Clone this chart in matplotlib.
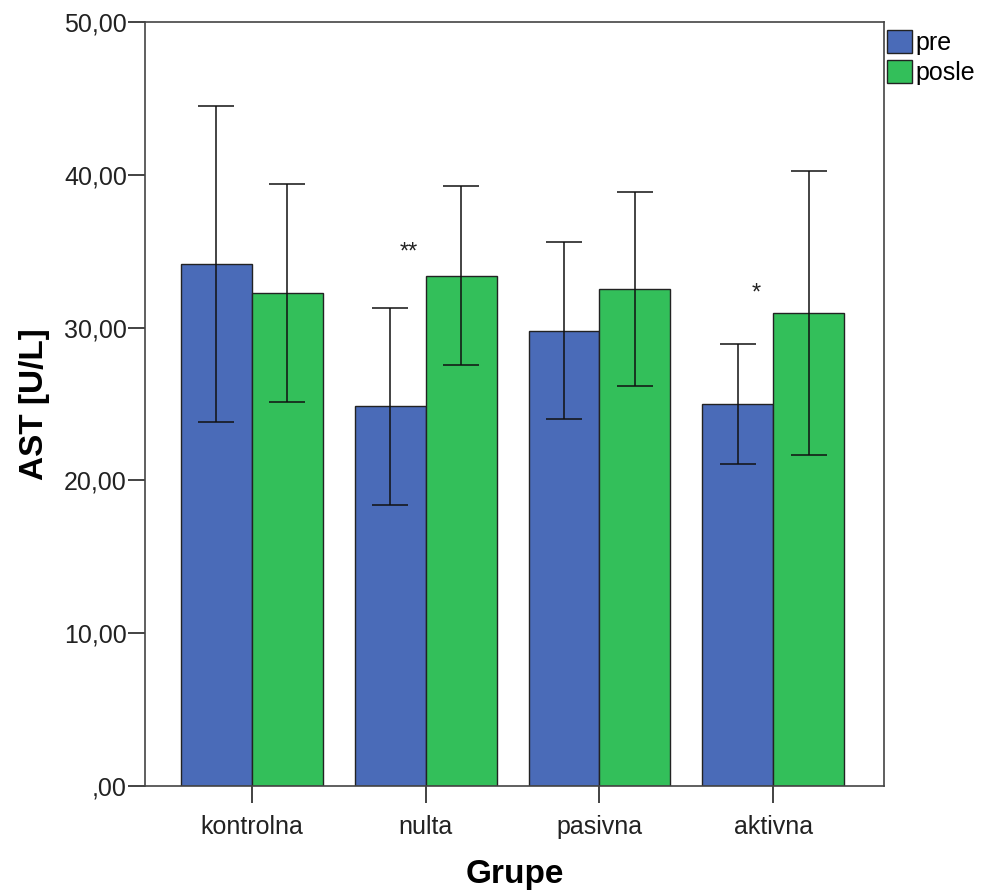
import numpy as np
import matplotlib.pyplot as plt

groups = ["kontrolna", "nulta", "pasivna", "aktivna"]
pre_mean = [34.15, 24.85, 29.8, 25.0]
pre_err = [10.35, 6.45, 5.8, 3.9]
posle_mean = [32.25, 33.4, 32.55, 30.95]
posle_err = [7.15, 5.85, 6.35, 9.3]
marks = ["", "**", "", "*"]
mark_y = [0, 34.9, 0, 32.2]

c_pre = "#4a6bb8"
c_posle = "#33bf5a"

plt.rcParams['font.family'] = ['Liberation Sans', 'DejaVu Sans']

fig = plt.figure(figsize=(9.82, 8.9), dpi=100)
ax = fig.add_axes([0.1477, 0.1169, 0.7526, 0.8584])

x = np.arange(len(groups))
w = 0.408
ekw = dict(ecolor="#111111", elinewidth=1.1, capsize=13, capthick=1.1)
ax.bar(x - w/2, pre_mean, w, color=c_pre, edgecolor="#222222", linewidth=1.0,
       yerr=pre_err, error_kw=ekw, label="pre", zorder=2)
ax.bar(x + w/2, posle_mean, w, color=c_posle, edgecolor="#222222", linewidth=1.0,
       yerr=posle_err, error_kw=ekw, label="posle", zorder=2)

# significance markers above the "pre" bars
for i, m in enumerate(marks):
    if m:
        ax.text(x[i] - 0.1, mark_y[i], m, ha="center", va="center", fontsize=17, color="#222222")

ax.set_xlim(-0.615, 3.638)
ax.set_ylim(0, 50)
ax.set_yticks(np.arange(0, 51, 10))
ax.set_yticklabels([",00", "10,00", "20,00", "30,00", "40,00", "50,00"])
ax.set_xticks(x)
ax.set_xticklabels(groups)
ax.tick_params(axis="y", length=12, width=1.2, labelsize=18, colors="#222222", pad=1)
ax.tick_params(axis="x", length=12, width=1.2, labelsize=18, colors="#222222", pad=9)
for s in ax.spines.values():
    s.set_color("#444444")
    s.set_linewidth(1.2)

ax.set_xlabel("Grupe", fontsize=24, fontweight="bold", labelpad=14)
ax.set_ylabel("AST [U/L]", fontsize=24, fontweight="bold", labelpad=10)

leg = ax.legend(loc="upper left", bbox_to_anchor=(0.9995, 0.995), frameon=False,
                fontsize=18, handlelength=1.0, handleheight=1.05, handletextpad=0.12,
                labelspacing=0.2, borderaxespad=0.05, borderpad=0.1)

fig.savefig("out.png", dpi=100)
